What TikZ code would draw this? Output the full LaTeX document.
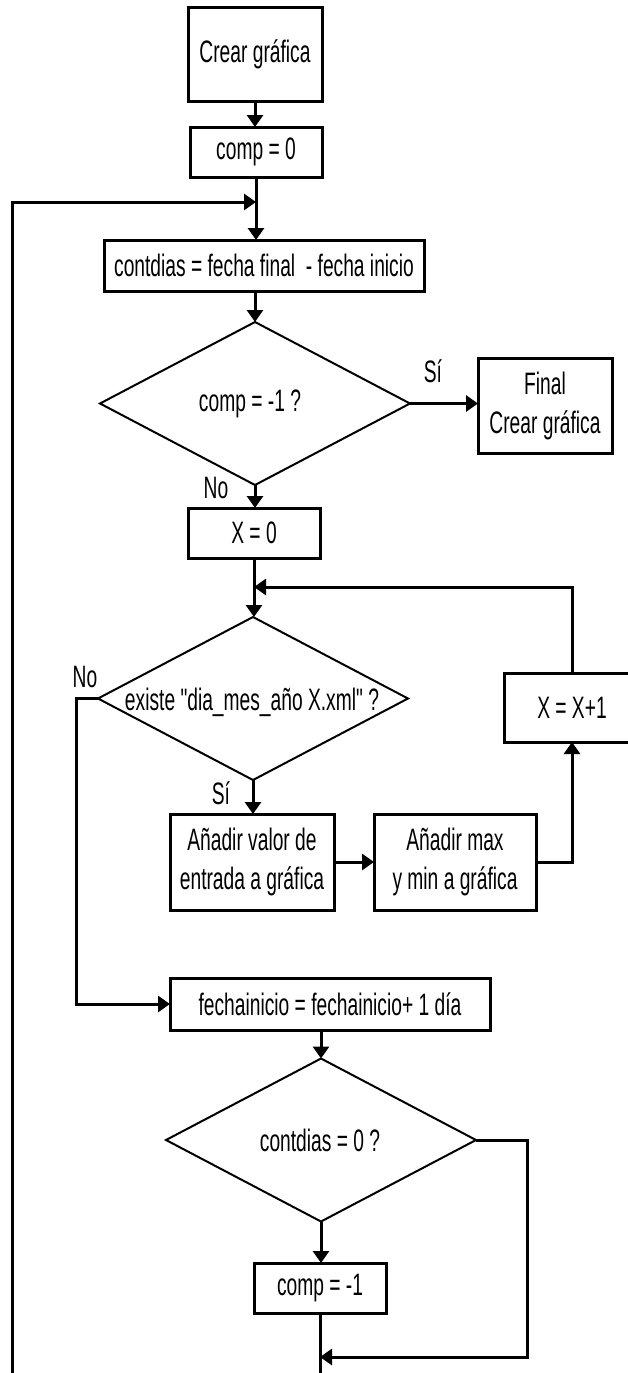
\documentclass[tikz,border=0pt]{standalone}
\usepackage{fontspec}
\setmainfont{Liberation Sans}[FakeStretch=0.62, Ligatures=TeXOff]
\usetikzlibrary{arrows.meta,shapes.geometric}
\begin{document}
\begin{tikzpicture}[x=1pt,y=-1pt,
  font=\fontsize{31}{39}\selectfont,
  every node/.style={inner sep=0pt, outer sep=0pt},
  box/.style={draw, line width=3pt, rectangle, align=center},
  decision/.style={draw, line width=2pt, diamond, minimum width=310pt, minimum height=163pt},
  flow/.style={line width=3pt, -{Triangle[length=12pt,width=16pt]}},
  link/.style={line width=3pt}
]
\useasboundingbox (0,0) rectangle (628,1373);
\begin{scope}
\clip (0,0) rectangle (628,1373);

% process boxes, decisions and junction points
\node[box, minimum width=134pt, minimum height=94pt] (crear) at (255,54) {Crear gráfica};
\node[box, minimum width=132pt, minimum height=50pt] (comp0) at (256,152) {comp = 0};
\coordinate (j1) at (256,202);
\node[box, minimum width=320pt, minimum height=51pt] (cont) at (264,265.5) {contdias = fecha final\ \ - fecha inicio};
\node[decision] (d1) at (255,403.5) {};
\node (d1t) at (250,404) {comp = -1 ?};
\node[box, minimum width=134pt, minimum height=95pt] (final) at (545,405.5) {Final\\Crear gráfica};
\node[box, minimum width=132pt, minimum height=50pt] (x0) at (254,533) {X = 0};
\coordinate (j2) at (254,587);
\node[decision] (d2) at (253,698.5) {};
\node (d2t) at (252,702) {existe "dia\_mes\_año X.xml" ?};
\node[box, minimum width=136pt, minimum height=69pt] (xinc) at (572,707.5) {X = X+1};
\node[box, minimum width=164pt, minimum height=96pt] (av) at (252,862) {Añadir valor de\\entrada a gráfica};
\node[box, minimum width=162pt, minimum height=96pt] (am) at (455,862) {Añadir max\\y min a gráfica};
\node[box, minimum width=320pt, minimum height=52pt] (fecha) at (330,1004) {fechainicio = fechainicio+ 1 día};
\node[decision] (d3) at (321,1140) {};
\node (d3t) at (320,1140) {contdias = 0 ?};
\node[box, minimum width=132pt, minimum height=50pt] (cm1) at (320,1288) {comp = -1};
\coordinate (j3) at (320,1357);
\coordinate (bot) at (320,1385);
\coordinate (lb) at (12,1385);

% branch labels
\node (si1) at (433,371) {Sí};
\node (no1) at (216,488) {No};
\node (no2) at (85,677) {No};
\node (si2) at (221,793) {Sí};

% connectors
\draw[flow] (crear.south) -- (crear.south |- comp0.north);
\draw[flow] (comp0.south) -- (comp0.south |- cont.north);
\draw[flow] (lb) |- (j1);
\draw[flow] (d1.north |- cont.south) -- (d1.north);
\draw[flow] (d1.east) -- (final.west |- d1.east);
\draw[flow] (d1.south) -- (d1.south |- x0.north);
\draw[flow] (x0.south) -- (x0.south |- d2.north);
\draw[flow] (xinc.north) |- (j2);
\draw[flow] (d2.south) -- (d2.south |- av.north);
\draw[flow] (av.east) -- (am.west);
\draw[flow] (am.east) -| (xinc.south);
\draw[flow] (d2.west) -- ++(-22,0) |- (fecha.west);
\draw[flow] (d3.north |- fecha.south) -- (d3.north);
\draw[flow] (d3.south) -- (d3.south |- cm1.north);
\draw[flow] (d3.east) -- ++(51,0) |- (j3);
\draw[link] (cm1.south) -- (bot);
\end{scope}
\end{tikzpicture}
\end{document}
